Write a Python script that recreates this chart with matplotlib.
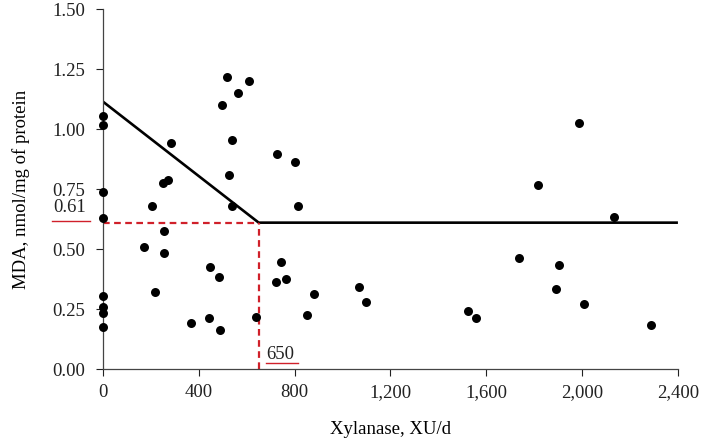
import numpy as np
import matplotlib
matplotlib.use('Agg')
import matplotlib.pyplot as plt

plt.rcParams['font.family'] = ['Liberation Serif', 'DejaVu Serif']

# xylanase intake (XU/d) and MDA (nmol/mg of protein)
xylanase = [0, 0, 0, 0, 0, 0, 0, 0,
            203, 251, 270, 285, 495, 519, 562, 611, 538, 525, 537,
            726, 801, 813,
            171, 256, 256, 217, 367, 448, 484, 442, 490, 640,
            723, 744, 764, 851, 879,
            1988, 1814, 2133, 1737, 1904, 1893, 2009, 2286,
            1070, 1100, 1523, 1558]
mda = [1.055, 1.017, 0.736, 0.628, 0.304, 0.257, 0.235, 0.176,
       0.68, 0.776, 0.786, 0.94, 1.10, 1.215, 1.152, 1.201, 0.955, 0.808, 0.68,
       0.896, 0.861, 0.68,
       0.51, 0.576, 0.482, 0.32, 0.19, 0.425, 0.383, 0.211, 0.164, 0.219,
       0.361, 0.447, 0.375, 0.226, 0.314,
       1.025, 0.765, 0.635, 0.4625, 0.432, 0.335, 0.272, 0.185,
       0.34, 0.279, 0.242, 0.2125]

# broken-line fit
intercept = 1.114
breakpoint_x = 650
plateau = 0.61
x_max = 2400

FS = 13.5
RED = '#d0202a'

fig = plt.figure(figsize=(7.02, 4.42), dpi=100)
ax = fig.add_axes([0.1467, 0.165, 0.819, 0.8146])

ax.scatter(xylanase, mda, s=42, color='black', zorder=3, linewidths=0, clip_on=False)

fit_x = [0, breakpoint_x, x_max]
fit_y = [intercept, plateau, plateau]
ax.plot(fit_x, fit_y, color='black', lw=1.9, zorder=2, solid_capstyle='butt')

ax.plot([0, breakpoint_x], [plateau, plateau], color=RED, lw=1.6, ls=(0, (3, 2)), zorder=2.5)
ax.plot([breakpoint_x, breakpoint_x], [0, plateau], color=RED, lw=1.6, ls=(0, (3, 2)), zorder=2.5)

ax.set_xlim(0, x_max)
ax.set_ylim(0, 1.5)
ax.set_xticks(np.arange(0, 2401, 400))
ax.set_xticklabels(['0', '400', '800', '1,200', '1,600', '2,000', '2,400'])
ax.set_yticks(np.arange(0, 1.51, 0.25))
ax.set_yticklabels(['%.2f' % v for v in np.arange(0, 1.51, 0.25)])
ax.tick_params(axis='both', direction='out', length=5, width=0.8, labelsize=FS, colors='#222222')
ax.tick_params(axis='x', pad=6)
ax.tick_params(axis='y', pad=8)

for s in ['top', 'right']:
    ax.spines[s].set_visible(False)
for s in ['left', 'bottom']:
    ax.spines[s].set_color('#444444')
    ax.spines[s].set_linewidth(0.9)

ax.set_xlabel('Xylanase, XU/d', fontsize=FS, labelpad=14)
ax.set_ylabel('MDA, nmol/mg of protein', fontsize=FS, labelpad=16)

# annotations for breakpoint
ax.annotate('0.61', xy=(0, plateau), xycoords='data', xytext=(-12, 5), textcoords='offset points',
            ha='right', va='bottom', fontsize=FS, color='#222222', annotation_clip=False)
ax.plot([-0.088, -0.023], [0.615, 0.615], transform=ax.get_yaxis_transform(),
        color=RED, lw=1.0, clip_on=False)
ax.text(breakpoint_x + 32, 0.04, '650', ha='left', va='baseline', fontsize=FS, color='#222222')
ax.plot([breakpoint_x + 32, breakpoint_x + 165], [0.027, 0.027], color=RED, lw=1.0)

fig.savefig('out.png', dpi=100)
